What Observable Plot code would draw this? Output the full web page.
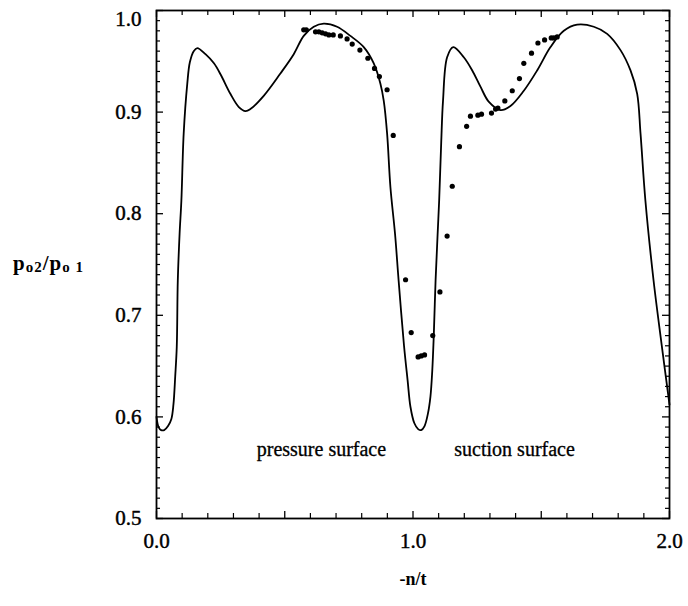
<!DOCTYPE html>
<html><head><meta charset="utf-8">
<script src="https://cdn.jsdelivr.net/npm/d3@7"></script>
<script src="https://cdn.jsdelivr.net/npm/@observablehq/plot@0.6"></script>
<style>body{margin:0;background:#fff}</style>
</head><body><div id="chart"></div>
<script>
// Computed curve (solid line): -n/t vs po2/po1
const curveX = [0.000,0.008,0.018,0.030,0.045,0.058,0.066,0.073,0.079,0.083,0.090,0.097,0.106,0.120,0.130,0.145,0.159,0.191,0.224,0.250,0.288,0.321,0.347,0.366,0.418,0.483,0.535,0.574,0.613,0.652,0.704,0.756,0.808,0.847,0.873,0.886,0.899,0.912,0.930,0.944,0.965,0.979,0.990,1.005,1.020,1.032,1.045,1.058,1.068,1.075,1.081,1.088,1.096,1.102,1.110,1.117,1.133,1.157,1.198,1.231,1.263,1.296,1.341,1.380,1.432,1.484,1.536,1.588,1.640,1.705,1.757,1.809,1.848,1.874,1.887,1.906,1.938,1.970,2.000];
const curveY = [0.600,0.590,0.587,0.587,0.591,0.598,0.612,0.640,0.669,0.734,0.780,0.813,0.879,0.928,0.949,0.960,0.963,0.957,0.948,0.937,0.918,0.905,0.901,0.903,0.916,0.938,0.957,0.975,0.984,0.987,0.984,0.975,0.964,0.948,0.928,0.911,0.879,0.826,0.780,0.734,0.670,0.636,0.610,0.594,0.588,0.587,0.591,0.603,0.620,0.645,0.680,0.734,0.780,0.813,0.870,0.911,0.954,0.964,0.954,0.941,0.925,0.910,0.902,0.906,0.921,0.941,0.964,0.980,0.986,0.984,0.977,0.961,0.941,0.918,0.879,0.813,0.734,0.670,0.612];
// Measured points (dots)
const dotX = [0.574,0.584,0.620,0.633,0.646,0.659,0.672,0.689,0.717,0.743,0.763,0.793,0.824,0.850,0.869,0.899,0.923,0.971,0.993,1.020,1.032,1.045,1.077,1.105,1.133,1.153,1.181,1.209,1.224,1.253,1.267,1.306,1.322,1.331,1.358,1.387,1.415,1.432,1.462,1.487,1.513,1.539,1.549,1.562];
const dotY = [0.981,0.981,0.979,0.979,0.978,0.977,0.976,0.976,0.975,0.972,0.967,0.961,0.953,0.943,0.935,0.922,0.877,0.735,0.683,0.659,0.660,0.661,0.680,0.723,0.778,0.827,0.866,0.886,0.896,0.897,0.898,0.899,0.903,0.904,0.911,0.921,0.933,0.948,0.958,0.968,0.971,0.973,0.973,0.974];
const xTickLabels = [0, 1, 2];
const yTickLabels = [0.5, 0.6, 0.7, 0.8, 0.9];
const yTopLabel = [1.0];
const annotationText = ["pressure surface", "suction surface"];
const annotationX = [0.643, 1.396];
const annotationY = [0.568, 0.568];
const xTitle = "-n/t";

const curve = curveX.map((x, i) => ({x, y: curveY[i]}));
const dots = dotX.map((x, i) => ({x, y: dotY[i]}));
const notes = annotationText.map((t, i) => ({t, x: annotationX[i], y: annotationY[i]}));

const W = 688, H = 606, mL = 156, mR = 19, mT = 10, mB = 88;
const pw = W - mL - mR, ph = H - mT - mB;
const yMinor = d3.range(50, 101).filter(i => i % 10 !== 0).map(i => i / 100);
const yMajor = d3.range(5, 11).map(i => i / 10);
const xMinor = d3.range(0, 21).filter(i => i % 5 !== 0).map(i => i / 10);
const xMajor = d3.range(0, 5).map(i => i / 2);
const serif = "'Liberation Serif', 'Times New Roman', serif";
const fmt = d => d.toFixed(1);
const labelStyle = {tickSize: 0, tickFormat: fmt, fontSize: 21, label: null, textStroke: "#000", textStrokeWidth: 0.45};

const plot = Plot.plot({
  width: W, height: H,
  marginLeft: mL, marginRight: mR, marginTop: mT, marginBottom: mB,
  x: {domain: [0, 2]},
  y: {domain: [0.5, 1.0]},
  style: {fontFamily: serif, background: "#fff", color: "#000"},
  marks: [
    Plot.ruleY(yMinor, {insetRight: pw - 4, stroke: "#000", strokeWidth: 1.2}),
    Plot.ruleY(yMinor, {insetLeft: pw - 4, stroke: "#000", strokeWidth: 1.2}),
    Plot.ruleY(yMajor, {insetRight: pw - 7, stroke: "#000", strokeWidth: 1.3}),
    Plot.ruleY(yMajor, {insetLeft: pw - 7, stroke: "#000", strokeWidth: 1.3}),
    Plot.ruleX(xMinor, {insetTop: ph - 5, stroke: "#000", strokeWidth: 1.2}),
    Plot.ruleX(xMinor, {insetBottom: ph - 5, stroke: "#000", strokeWidth: 1.2}),
    Plot.ruleX(xMajor, {insetTop: ph - 7, stroke: "#000", strokeWidth: 1.3}),
    Plot.ruleX(xMajor, {insetBottom: ph - 7, stroke: "#000", strokeWidth: 1.3}),
    Plot.frame({stroke: "#000", strokeWidth: 1.8}),
    Plot.axisX(xTickLabels, {...labelStyle, tickPadding: 15}),
    Plot.axisY(yTickLabels, {...labelStyle, tickPadding: 15}),
    Plot.axisY(yTopLabel, {...labelStyle, tickPadding: 15, dy: 9}),
    Plot.line(curve, {x: "x", y: "y", curve: "catmull-rom", stroke: "#000", strokeWidth: 1.8}),
    Plot.dot(dots, {x: "x", y: "y", r: 2.6, fill: "#000", stroke: "none"}),
    Plot.text(notes, {x: "x", y: "y", text: "t", fontSize: 20, fill: "#000", stroke: "#000", strokeWidth: 0.3}),
    Plot.text([xTitle], {frameAnchor: "bottom", dy: 66, fontSize: 18, fontWeight: "bold", fill: "#000"})
  ]
});

const svg = d3.select(plot);
const yt = svg.append("text")
  .attr("x", 13).attr("y", 270)
  .attr("text-anchor", "start")
  .attr("font-family", serif).attr("font-size", 21).attr("font-weight", "bold")
  .attr("letter-spacing", 1).attr("fill", "#000");
yt.append("tspan").text("p");
yt.append("tspan").attr("font-size", 15).attr("dy", 2).text("o2");
yt.append("tspan").attr("dy", -2).text("/p");
yt.append("tspan").attr("font-size", 15).attr("dy", 2).text("o 1");

document.getElementById("chart").appendChild(plot);
</script>
</body></html>
